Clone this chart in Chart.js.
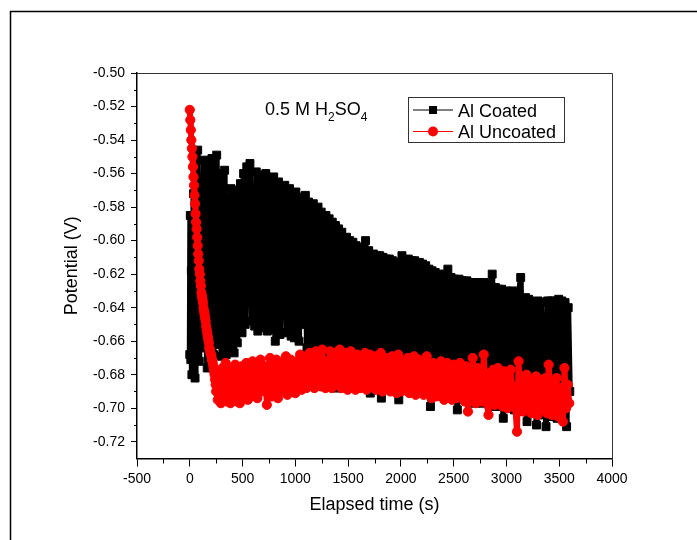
<!DOCTYPE html>
<html>
<head>
<meta charset="utf-8">
<script src="https://cdn.jsdelivr.net/npm/chart.js@4.4.1/dist/chart.umd.min.js"></script>
<style>
  html, body { margin: 0; padding: 0; background: #fff; }
  canvas { display: block; }
</style>
</head>
<body>
<canvas id="chart" width="697" height="540"></canvas>
<script>
const xTicks = [-500, 0, 500, 1000, 1500, 2000, 2500, 3000, 3500, 4000];
const xMinorTicks = [-250, 250, 750, 1250, 1750, 2250, 2750, 3250, 3750];
const yTicks = [-0.72, -0.70, -0.68, -0.66, -0.64, -0.62, -0.60, -0.58, -0.56, -0.54, -0.52, -0.50];
const yMinorTicks = [-0.71, -0.69, -0.67, -0.65, -0.63, -0.61, -0.59, -0.57, -0.55, -0.53, -0.51];

const seriesLabels = ['Al Coated', 'Al Uncoated'];
const solutionLabel = [['0.5 M H', false], ['2', true], ['SO', false], ['4', true]];

// elapsed time (s) and potential (V)
const coatedTime = [
  0, 5, 10, 15, 20, 25, 30, 35, 40, 45, 50, 55, 60,
  75, 90, 105, 120, 135, 150, 165, 180, 195, 210,
  225, 240, 255, 270, 285, 300, 315, 330, 345, 360,
  375, 390, 405, 420, 435, 450, 465, 480, 495, 510,
  525, 540, 555, 570, 585, 600, 615, 630, 645, 660,
  675, 690, 705, 720, 735, 750, 765, 780, 795, 810,
  825, 840, 855, 870, 885, 900, 915, 930, 945, 960,
  975, 990, 1005, 1020, 1035, 1050, 1065, 1080, 1095, 1110,
  1125, 1140, 1155, 1170, 1185, 1200, 1215, 1230, 1245, 1260,
  1275, 1290, 1305, 1320, 1335, 1350, 1365, 1380, 1395, 1410,
  1425, 1440, 1455, 1470, 1485, 1500, 1515, 1530, 1545, 1560,
  1575, 1590, 1605, 1620, 1635, 1650, 1665, 1680, 1695, 1710,
  1725, 1740, 1755, 1770, 1785, 1800, 1815, 1830, 1845, 1860,
  1875, 1890, 1905, 1920, 1935, 1950, 1965, 1980, 1995, 2010,
  2025, 2040, 2055, 2070, 2085, 2100, 2115, 2130, 2145, 2160,
  2175, 2190, 2205, 2220, 2235, 2250, 2265, 2280, 2295, 2310,
  2325, 2340, 2355, 2370, 2385, 2400, 2415, 2430, 2445, 2460,
  2475, 2490, 2505, 2520, 2535, 2550, 2565, 2580, 2595, 2610,
  2625, 2640, 2655, 2670, 2685, 2700, 2715, 2730, 2745, 2760,
  2775, 2790, 2805, 2820, 2835, 2850, 2865, 2880, 2895, 2910,
  2925, 2940, 2955, 2970, 2985, 3000, 3015, 3030, 3045, 3060,
  3075, 3090, 3105, 3120, 3135, 3150, 3165, 3180, 3195, 3210,
  3225, 3240, 3255, 3270, 3285, 3300, 3315, 3330, 3345, 3360,
  3375, 3390, 3405, 3420, 3435, 3450, 3465, 3480, 3495, 3510,
  3525, 3540, 3555, 3570, 3585, 3600
];
const coatedPotential = [
  -0.668, -0.585, -0.671, -0.618, -0.680, -0.597, -0.663, -0.572, -0.655, -0.630, -0.682, -0.552, -0.640,
  -0.546, -0.672, -0.571, -0.664, -0.552, -0.630, -0.676, -0.556, -0.655, -0.551,
  -0.668, -0.590, -0.549, -0.662, -0.560, -0.669, -0.612, -0.558, -0.668, -0.575,
  -0.666, -0.569, -0.640, -0.667, -0.570, -0.661, -0.600, -0.566, -0.655, -0.560,
  -0.650, -0.556, -0.620, -0.554, -0.648, -0.590, -0.651, -0.559, -0.654, -0.580,
  -0.561, -0.652, -0.605, -0.560, -0.654, -0.563, -0.635, -0.653, -0.562, -0.660,
  -0.600, -0.565, -0.656, -0.570, -0.645, -0.567, -0.655, -0.610, -0.569, -0.657,
  -0.572, -0.658, -0.571, -0.625, -0.660, -0.574, -0.650, -0.590, -0.573, -0.664,
  -0.577, -0.668, -0.600, -0.578, -0.676, -0.640, -0.580, -0.684, -0.583, -0.660,
  -0.686, -0.585, -0.630, -0.587, -0.684, -0.589, -0.655, -0.591, -0.688, -0.593,
  -0.670, -0.595, -0.686, -0.612, -0.598, -0.685, -0.600, -0.640, -0.601, -0.687,
  -0.603, -0.684, -0.604, -0.660, -0.605, -0.687, -0.600, -0.645, -0.606, -0.691,
  -0.680, -0.608, -0.686, -0.609, -0.650, -0.609, -0.694, -0.610, -0.672, -0.611,
  -0.687, -0.611, -0.660, -0.612, -0.689, -0.613, -0.640, -0.695, -0.613, -0.609,
  -0.688, -0.612, -0.670, -0.611, -0.690, -0.612, -0.650, -0.612, -0.689, -0.613,
  -0.613, -0.690, -0.614, -0.691, -0.615, -0.665, -0.617, -0.699, -0.618, -0.640,
  -0.619, -0.692, -0.620, -0.680, -0.621, -0.693, -0.620, -0.655, -0.617, -0.694,
  -0.622, -0.694, -0.623, -0.660, -0.701, -0.623, -0.690, -0.624, -0.645, -0.695,
  -0.624, -0.696, -0.625, -0.675, -0.625, -0.697, -0.626, -0.650, -0.696, -0.625,
  -0.697, -0.625, -0.685, -0.626, -0.698, -0.627, -0.620, -0.699, -0.628, -0.665,
  -0.629, -0.699, -0.629, -0.706, -0.640, -0.630, -0.700, -0.631, -0.690, -0.630,
  -0.701, -0.631, -0.670, -0.632, -0.622, -0.702, -0.685, -0.634, -0.708, -0.635,
  -0.636, -0.703, -0.637, -0.665, -0.710, -0.636, -0.700, -0.637, -0.704, -0.650,
  -0.711, -0.636, -0.680, -0.636, -0.705, -0.636, -0.655, -0.706, -0.635, -0.695,
  -0.636, -0.706, -0.637, -0.711, -0.640, -0.690
];

const uncoatedTime = [
  0, 5, 10, 15, 20, 25, 30, 35, 40, 45,
  50, 55, 60, 65, 70, 75, 80, 85, 90, 95,
  100, 105, 110, 115, 120, 125, 130, 135, 140, 145,
  150, 155, 160, 165, 170, 175, 180, 185, 190, 195,
  200, 205, 210, 215, 220, 225, 230, 235, 240, 245,
  250,
  265, 280, 295, 310, 325, 340, 355, 370, 385, 400,
  415, 430, 445, 460, 475, 490, 505, 520, 535, 550,
  565, 580, 595, 610, 625, 640, 655, 670, 685, 700,
  715, 730, 745, 760, 775, 790, 805, 820, 835, 850,
  865, 880, 895, 910, 925, 940, 955, 970, 985, 1000,
  1015, 1030, 1045, 1060, 1075, 1090, 1105, 1120, 1135, 1150,
  1165, 1180, 1195, 1210, 1225, 1240, 1255, 1270, 1285, 1300,
  1315, 1330, 1345, 1360, 1375, 1390, 1405, 1420, 1435, 1450,
  1465, 1480, 1495, 1510, 1525, 1540, 1555, 1570, 1585, 1600,
  1615, 1630, 1645, 1660, 1675, 1690, 1705, 1720, 1735, 1750,
  1765, 1780, 1795, 1810, 1825, 1840, 1855, 1870, 1885, 1900,
  1915, 1930, 1945, 1960, 1975, 1990, 2005, 2020, 2035, 2050,
  2065, 2080, 2095, 2110, 2125, 2140, 2155, 2170, 2185, 2200,
  2215, 2230, 2245, 2260, 2275, 2290, 2305, 2320, 2335, 2350,
  2365, 2380, 2395, 2410, 2425, 2440, 2455, 2470, 2485, 2500,
  2515, 2530, 2545, 2560, 2575, 2590, 2605, 2620, 2635, 2650,
  2665, 2680, 2695, 2710, 2725, 2740, 2755, 2770, 2785, 2800,
  2815, 2830, 2845, 2860, 2875, 2890, 2905, 2920, 2935, 2950,
  2965, 2980, 2995, 3010, 3025, 3040, 3055, 3070, 3085, 3100,
  3115, 3130, 3145, 3160, 3175, 3190, 3205, 3220, 3235, 3250,
  3265, 3280, 3295, 3310, 3325, 3340, 3355, 3370, 3385, 3400,
  3415, 3430, 3445, 3460, 3475, 3490, 3505, 3520, 3535, 3550,
  3565, 3580, 3595
];
const uncoatedPotential = [
  -0.522, -0.528, -0.534, -0.540, -0.545, -0.550, -0.556, -0.562, -0.567, -0.573,
  -0.578, -0.584, -0.589, -0.593, -0.598, -0.603, -0.608, -0.612, -0.617, -0.620,
  -0.624, -0.627, -0.631, -0.633, -0.635, -0.637, -0.640, -0.642, -0.644, -0.646,
  -0.648, -0.651, -0.653, -0.655, -0.657, -0.659, -0.661, -0.664, -0.665, -0.667,
  -0.668, -0.669, -0.671, -0.672, -0.674, -0.676, -0.678, -0.680, -0.683, -0.686,
  -0.690,
  -0.695, -0.680, -0.697, -0.676, -0.690, -0.673, -0.696, -0.684, -0.697, -0.677,
  -0.688, -0.674, -0.696, -0.681, -0.697, -0.675, -0.692, -0.686, -0.673, -0.695,
  -0.682, -0.693, -0.672, -0.689, -0.676, -0.694, -0.680, -0.671, -0.690, -0.684,
  -0.675, -0.698, -0.686, -0.670, -0.693, -0.679, -0.688, -0.671, -0.694, -0.677,
  -0.690, -0.673, -0.683, -0.669, -0.692, -0.680, -0.671, -0.689, -0.676, -0.691,
  -0.672, -0.686, -0.668, -0.689, -0.677, -0.670, -0.688, -0.681, -0.667, -0.685,
  -0.674, -0.688, -0.666, -0.682, -0.670, -0.687, -0.665, -0.679, -0.688, -0.672,
  -0.684, -0.666, -0.688, -0.675, -0.667, -0.686, -0.679, -0.665, -0.688, -0.671,
  -0.683, -0.667, -0.689, -0.674, -0.666, -0.686, -0.678, -0.689, -0.668, -0.681,
  -0.688, -0.670, -0.685, -0.667, -0.689, -0.676, -0.668, -0.687, -0.680, -0.669,
  -0.689, -0.673, -0.684, -0.667, -0.690, -0.678, -0.670, -0.688, -0.675, -0.690,
  -0.669, -0.686, -0.677, -0.691, -0.668, -0.683, -0.690, -0.672, -0.687, -0.679,
  -0.670, -0.691, -0.676, -0.686, -0.669, -0.692, -0.681, -0.671, -0.689, -0.678,
  -0.692, -0.675, -0.669, -0.690, -0.682, -0.694, -0.673, -0.687, -0.693, -0.676,
  -0.690, -0.672, -0.685, -0.695, -0.678, -0.673, -0.692, -0.683, -0.695, -0.674,
  -0.688, -0.694, -0.676, -0.673, -0.691, -0.682, -0.696, -0.675, -0.702, -0.684,
  -0.692, -0.670, -0.687, -0.697, -0.676, -0.690, -0.683, -0.696, -0.668, -0.688,
  -0.697, -0.704, -0.679, -0.693, -0.677, -0.698, -0.685, -0.676, -0.695, -0.681,
  -0.699, -0.678, -0.690, -0.700, -0.683, -0.677, -0.696, -0.687, -0.700, -0.714,
  -0.672, -0.695, -0.681, -0.702, -0.688, -0.680, -0.699, -0.692, -0.703, -0.683,
  -0.697, -0.681, -0.704, -0.689, -0.683, -0.701, -0.694, -0.682, -0.703, -0.674,
  -0.690, -0.704, -0.684, -0.698, -0.682, -0.705, -0.688, -0.696, -0.708, -0.676,
  -0.700, -0.686, -0.697
];

const FONT = '"Liberation Sans", Arial, Helvetica, sans-serif';
Chart.defaults.font.family = FONT;
Chart.defaults.color = '#000';

function toPoints(times, values) {
  let pts = [];
  for (let i = 0; i < times.length; i++) {
    pts.push({x: times[i], y: values[i]});
  }
  return pts;
}

// frame, plot box, minor ticks, annotation and legend box
const decor = {
  id: 'decor',
  beforeDraw(chart) {
    const ctx = chart.ctx;
    ctx.save();
    ctx.fillStyle = '#fff';
    ctx.fillRect(0, 0, chart.width, chart.height);
    ctx.strokeStyle = '#000';
    ctx.lineWidth = 1.5;
    ctx.strokeRect(10.5, 11.5, 800, 700);
    ctx.restore();
  },
  afterDraw(chart) {
    const ctx = chart.ctx;
    const a = chart.chartArea;
    const x = chart.scales.x;
    const y = chart.scales.y;
    ctx.save();

    ctx.strokeStyle = '#333';
    ctx.lineWidth = 1;
    ctx.beginPath();
    ctx.moveTo(a.left, a.top + 0.5);
    ctx.lineTo(a.right + 0.5, a.top + 0.5);
    ctx.lineTo(a.right + 0.5, a.bottom);
    ctx.stroke();

    ctx.strokeStyle = '#000';
    ctx.beginPath();
    xMinorTicks.forEach(v => {
      let px = Math.round(x.getPixelForValue(v)) + 0.5;
      ctx.moveTo(px, a.bottom);
      ctx.lineTo(px, a.bottom + 5);
    });
    yMinorTicks.forEach(v => {
      let py = Math.round(y.getPixelForValue(v)) + 0.5;
      ctx.moveTo(a.left, py);
      ctx.lineTo(a.left - 3, py);
    });
    ctx.stroke();

    // 0.5 M H2SO4
    let tx = 265;
    ctx.fillStyle = '#000';
    ctx.textBaseline = 'alphabetic';
    solutionLabel.forEach(([txt, sub]) => {
      ctx.font = (sub ? '12px ' : '18px ') + FONT;
      ctx.fillText(txt, tx, sub ? 121 : 115);
      tx += ctx.measureText(txt).width;
    });

    // legend
    ctx.strokeStyle = '#333';
    ctx.lineWidth = 1;
    ctx.strokeRect(408.5, 97.5, 156, 45);
    const rows = [110, 131.5];
    chart.data.datasets.forEach((ds, i) => {
      let ry = rows[i];
      ctx.strokeStyle = ds.borderColor;
      ctx.lineWidth = 1;
      ctx.beginPath();
      ctx.moveTo(413, ry);
      ctx.lineTo(453, ry);
      ctx.stroke();
      ctx.fillStyle = ds.borderColor;
      if (ds.pointStyle === 'rect') {
        ctx.fillRect(429, ry - 4, 8, 8);
      } else {
        ctx.beginPath();
        ctx.arc(433, ry, 5, 0, Math.PI * 2);
        ctx.fill();
      }
      ctx.fillStyle = '#000';
      ctx.font = '18px ' + FONT;
      ctx.fillText(ds.label, 458, ry + 6.5);
    });
    ctx.restore();
  }
};

new Chart(document.getElementById('chart'), {
  type: 'scatter',
  data: {
    datasets: [
      {
        label: seriesLabels[0],
        data: toPoints(coatedTime, coatedPotential),
        showLine: true,
        borderColor: '#000000',
        backgroundColor: '#000000',
        borderWidth: 6,
        borderJoinStyle: 'round',
        pointStyle: 'rect',
        pointRadius: 5.6,
        pointBorderWidth: 1,
        order: 1
      },
      {
        label: seriesLabels[1],
        data: toPoints(uncoatedTime, uncoatedPotential),
        showLine: true,
        borderColor: '#ff0000',
        backgroundColor: '#ff0000',
        borderWidth: 6,
        borderJoinStyle: 'round',
        pointStyle: 'circle',
        pointRadius: 4.6,
        pointBorderWidth: 1,
        order: 0
      }
    ]
  },
  options: {
    responsive: false,
    animation: false,
    devicePixelRatio: 1,
    layout: {padding: {left: 0, top: 73, right: 85, bottom: 0}},
    plugins: {
      legend: {display: false},
      tooltip: {enabled: false}
    },
    scales: {
      x: {
        type: 'linear',
        min: -500,
        max: 4000,
        afterBuildTicks: s => { s.ticks = xTicks.map(v => ({value: v})); },
        afterFit: s => { s.height = 81.5; },
        grid: {drawOnChartArea: false, drawTicks: true, tickLength: 8, color: '#000', lineWidth: 1},
        border: {display: true, color: '#000', width: 1.5},
        ticks: {font: {size: 14}, color: '#000', padding: 4, maxRotation: 0, callback: v => String(v)},
        title: {display: true, text: 'Elapsed time (s)', font: {size: 18}, color: '#000', padding: {top: 0, bottom: 24}}
      },
      y: {
        type: 'linear',
        min: -0.73,
        max: -0.50,
        afterBuildTicks: s => { s.ticks = yTicks.map(v => ({value: v})); },
        afterFit: s => { s.width = 137; },
        grid: {drawOnChartArea: false, drawTicks: true, tickLength: 6, color: '#000', lineWidth: 1},
        border: {display: true, color: '#000', width: 1.5},
        ticks: {font: {size: 14}, color: '#000', padding: 6, callback: v => v.toFixed(2)},
        title: {display: true, text: 'Potential (V)', font: {size: 18}, color: '#000', padding: {top: 61, bottom: 0}}
      }
    }
  },
  plugins: [decor]
});
</script>
</body>
</html>
